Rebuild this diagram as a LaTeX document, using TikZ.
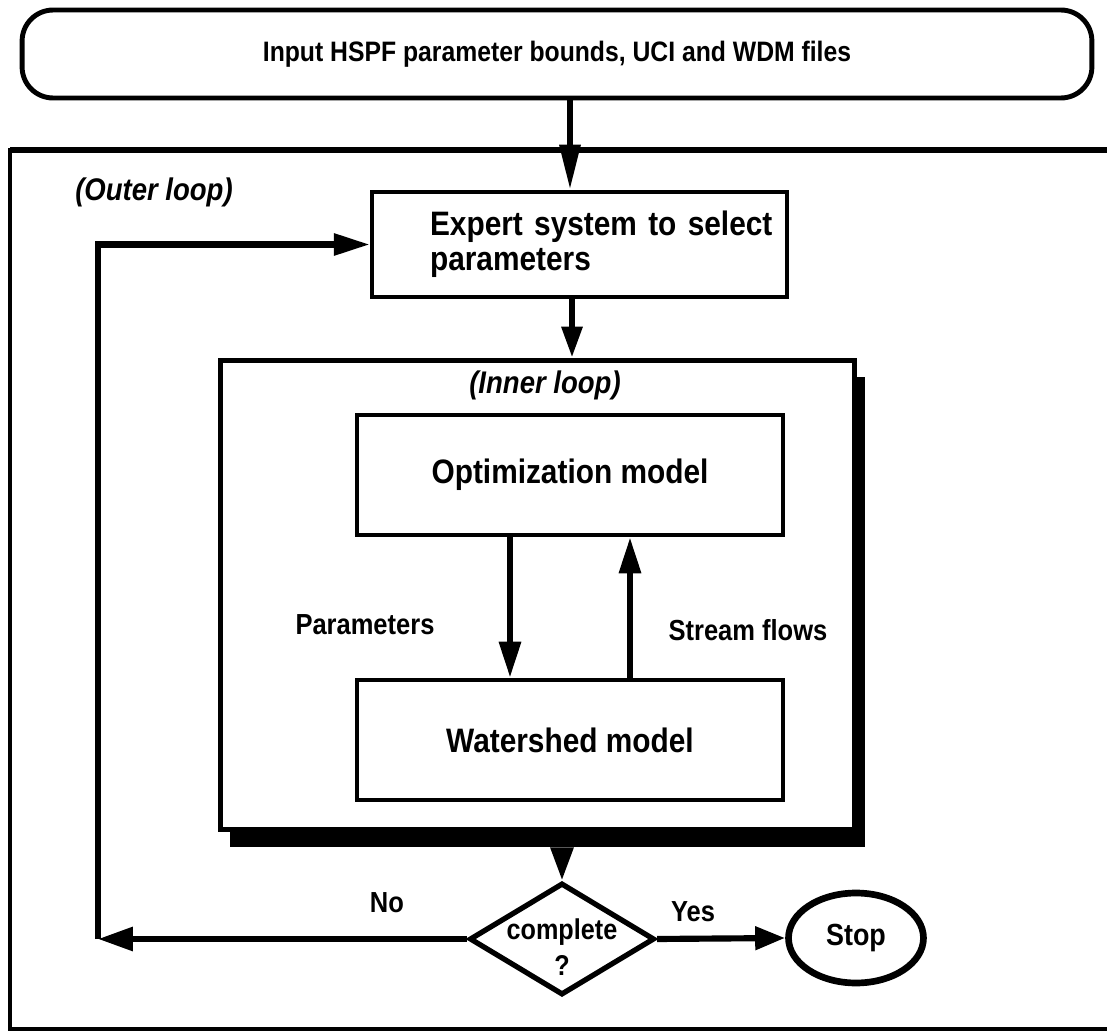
\documentclass[tikz,border=0pt]{standalone}
\usepackage{fontspec}
\setmainfont{Liberation Sans}[FakeStretch=0.88]
\usetikzlibrary{arrows.meta,shapes.geometric,shadows,calc}
\tikzset{
  box/.style={draw, line width=2.6pt, rectangle, fill=white, inner sep=0pt},
  arr/.style={line width=3.5pt, -{Triangle[length=0.72cm,width=0.42cm]}},
  bigtxt/.style={font=\fontsize{19.3}{20}\selectfont\bfseries},
  midtxt/.style={font=\fontsize{16.3}{20}\selectfont\bfseries},
  smalltxt/.style={font=\fontsize{16.5}{20}\selectfont\bfseries},
  ittxt/.style={font=\fontsize{17.8}{20}\selectfont\bfseries\itshape},
}
\begin{document}
\begin{tikzpicture}[x=0.02cm,y=-0.02cm]
\useasboundingbox[fill=white] (0,0) rectangle (1107,1034);
% outer frame
\draw[line width=2.2pt] (1112,150) -- (10,150) -- (10,1029) -- (1112,1029);
\draw[line width=3.4pt] (10,150) -- (1112,150);
% top input
\node[box, rounded corners=0.62cm, line width=2.8pt, minimum width=21.4cm, minimum height=1.76cm, font=\fontsize{16}{19}\selectfont\bfseries] (input) at (557,54) {Input HSPF parameter bounds, UCI and WDM files};
% expert box
\node[box, minimum width=8.3cm, minimum height=2.1cm, align=left, text width=8.3cm, bigtxt] (expert) at (579.5,244.5) {\hspace*{1.16cm}Expert system to select\\\hspace*{1.16cm}parameters};
\node[ittxt] (outerlbl) at (154,192) {(Outer loop)};
% inner loop box
\node[box, line width=2.8pt, minimum width=12.7cm, minimum height=9.4cm, drop shadow={shadow xshift=0.2cm, shadow yshift=-0.34cm, fill=black, opacity=1}] (inner) at (537.5,595) {};
\node[ittxt] (innerlbl) at (545,385) {(Inner loop)};
\node[box, minimum width=8.52cm, minimum height=2.4cm, bigtxt] (opt) at (570,475) {Optimization model};
\node[box, minimum width=8.52cm, minimum height=2.4cm, bigtxt] (water) at (570,740) {Watershed model};
\node[smalltxt] (plbl) at (365,625) {Parameters};
\node[smalltxt] (slbl) at (748,630) {Stream flows};
% decision
\node[diamond, draw, line width=3pt, inner sep=0pt, minimum width=3.7cm, minimum height=2.24cm, midtxt] (dia) at (562,939) {\smash{\begin{tabular}[t]{@{}c@{}}complete\\[1pt]?\end{tabular}}};
\node[ellipse, draw, line width=3.8pt, inner sep=0pt, minimum width=2.7cm, minimum height=1.8cm, font=\fontsize{17.4}{20}\selectfont\bfseries] (stop) at (856,938) {Stop};
\node[smalltxt] (nolbl) at (387,903) {No};
\node[smalltxt] (yeslbl) at (693,912) {Yes};
\coordinate (c1) at (98,939);
\coordinate (xa) at (570,0);
\coordinate (xb) at (572,0);
% connectors
\draw[arr,-{Triangle[length=0.9cm,width=0.4cm]}] (input.south -| xa) -- (expert.north -| xa);
\draw[arr,-{Triangle[length=0.62cm,width=0.4cm]}] (expert.south -| xb) -- (inner.north -| xb);
\draw[arr] ($(opt.south)+(-60,0)$) -- ($(water.north)+(-60,0)$);
\draw[arr] ($(water.north)+(60,0)$) -- ($(opt.south)+(60,0)$);
\draw[arr,-{Triangle[length=0.66cm,width=0.44cm]}] ($(inner.south -| dia.north)+(0,17)$) -- (dia.north);
\draw[arr,-{Triangle[length=0.6cm,width=0.45cm]}] (dia.east) -- (stop.west);
\draw[arr,-{Triangle[length=0.7cm,width=0.46cm]}] (dia.west) -- (c1);
\draw[arr] (c1) |- (expert.west);
\end{tikzpicture}
\end{document}
